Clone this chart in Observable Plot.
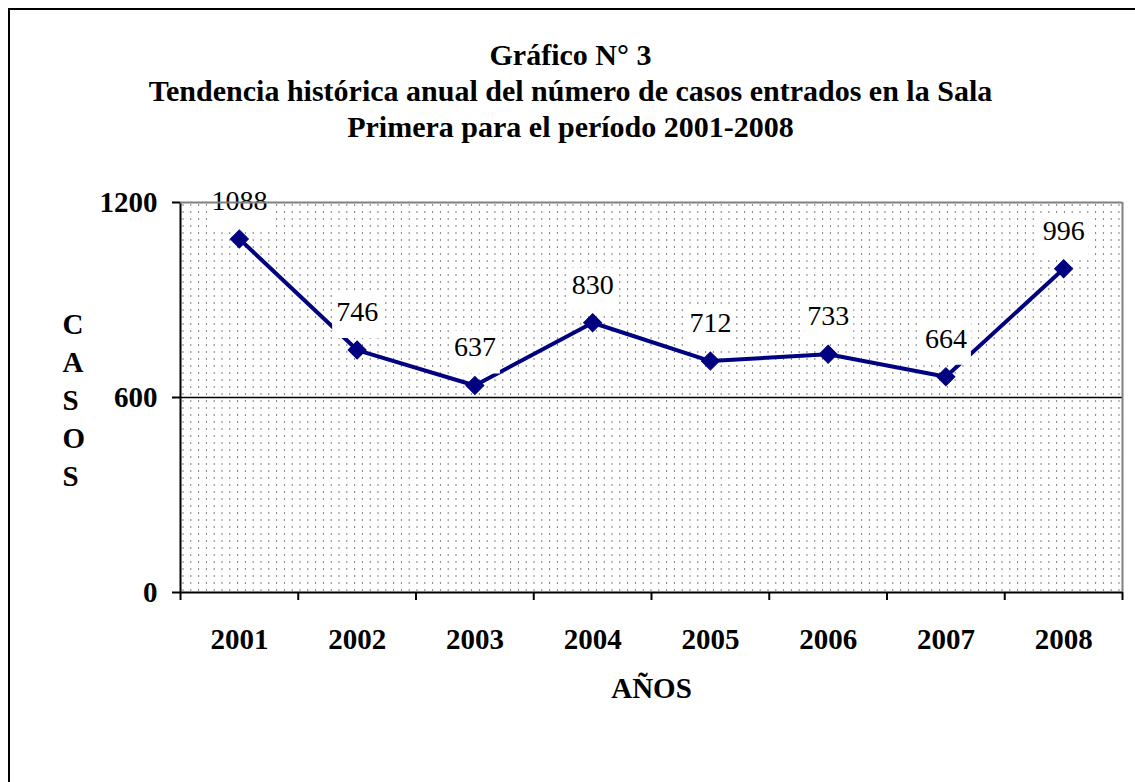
<!DOCTYPE html>
<html>
<head>
<meta charset="utf-8">
<script src="https://cdn.jsdelivr.net/npm/d3@7"></script>
<script src="https://cdn.jsdelivr.net/npm/@observablehq/plot@0.6"></script>
<style>
  html, body { margin: 0; padding: 0; background: #fff; overflow: hidden; }
  #wrap { position: relative; width: 1135px; height: 782px; overflow: hidden; }
  #frame { position: absolute; left: 8px; top: 8px; width: 1200px; height: 900px; border: 2px solid #000; box-sizing: border-box; pointer-events: none; }
  #chart { position: absolute; left: 0; top: 0; }
</style>
</head>
<body>
<svg width="0" height="0" style="position:absolute">
  <defs>
    <pattern id="dots" patternUnits="userSpaceOnUse" x="182" y="204" width="7.8" height="7">
      <rect x="0" y="0" width="1" height="1" fill="#000"></rect>
    </pattern>
  </defs>
</svg>
<div id="wrap">
  <div id="chart"></div>
  <div id="frame"></div>
</div>
<script>
const years = [2001, 2002, 2003, 2004, 2005, 2006, 2007, 2008];
const casos = [1088, 746, 637, 830, 712, 733, 664, 996];
const yTicks = [0, 600, 1200];
const titleLines = ["Gráfico N° 3", "Tendencia histórica anual del número de casos entrados en la Sala", "Primera para el período 2001-2008"];
const xLabel = "AÑOS";
const yLabel = "CASOS";

const data = years.map((y, i) => ({year: y, value: casos[i]}));
const boundaries = [years[0] - 0.5, ...years.map(y => y + 0.5)];
const font = "'Liberation Serif', 'Times New Roman', serif";

// white label box behind each data label (style only)
const boxSymbol = (w, h) => ({draw(ctx) { ctx.rect(-w / 2, -h / 2, w, h); }});
const labelBox = (digits) => Plot.dot(data.filter(d => String(d.value).length === digits), {
  x: "year", y: "value", symbol: boxSymbol(digits * 14 + 8, 43), r: 1, dy: -33.5, fill: "#fff", stroke: null
});

const chart = Plot.plot({
  width: 1135,
  height: 782,
  marginLeft: 180,
  marginRight: 13,
  marginTop: 202,
  marginBottom: 190,
  style: {fontFamily: font, background: "transparent", color: "#000"},
  x: {domain: [boundaries[0], boundaries[boundaries.length - 1]], axis: null, label: null},
  y: {domain: [0, 1200], axis: null, label: null},
  marks: [
    Plot.frame({fill: "url(#dots)", stroke: null}),
    Plot.ruleY([600], {stroke: "#000", strokeWidth: 1.5}),
    Plot.ruleX([boundaries[boundaries.length - 1]], {stroke: "#808080", strokeWidth: 2}),
    Plot.axisY({ticks: yTicks, label: null, tickSize: 8, tickPadding: 15, tickFormat: d => String(d), fontSize: 29, fontWeight: "bold", stroke: "#000", strokeWidth: 2, fill: "#000"}),
    Plot.axisX({ticks: boundaries, label: null, tickSize: 8, tickFormat: () => "", stroke: "#000", strokeWidth: 2}),
    Plot.axisX({ticks: years, label: null, tickSize: 0, tickPadding: 36, tickFormat: d => String(d), fontSize: 29, fontWeight: "bold", fill: "#000"}),
    Plot.ruleX([boundaries[0]], {stroke: "#000", strokeWidth: 2}),
    Plot.ruleY([0], {stroke: "#000", strokeWidth: 2}),
    Plot.line(data, {x: "year", y: "value", stroke: "#000080", strokeWidth: 4}),
    Plot.dot(data, {x: "year", y: "value", symbol: "square", r: 7.2, rotate: 45, fill: "#000080", stroke: "#000080", strokeWidth: 1}),
    labelBox(3),
    labelBox(4),
    Plot.text(data, {x: "year", y: "value", text: d => String(d.value), dy: -38, fontSize: 28, fill: "#000"}),
    Plot.ruleY([1200], {stroke: "#808080", strokeWidth: 2}),
    Plot.text([xLabel], {frameAnchor: "bottom", lineAnchor: "middle", dy: 96, text: d => d, fontSize: 29, fontWeight: "bold", fill: "#000"}),
    Plot.text([yLabel], {frameAnchor: "left", lineAnchor: "middle", dx: -118, text: d => d.split("").join("\n"), lineHeight: 1.31, fontSize: 29, fontWeight: "bold", fill: "#000"}),
    Plot.text([titleLines.join("\n")], {frameAnchor: "top", lineAnchor: "middle", dx: -81, dy: -113, text: d => d, lineHeight: 1.2, fontSize: 30, fontWeight: "bold", fill: "#000"})
  ]
});
document.getElementById("chart").appendChild(chart);
</script>
</body>
</html>
